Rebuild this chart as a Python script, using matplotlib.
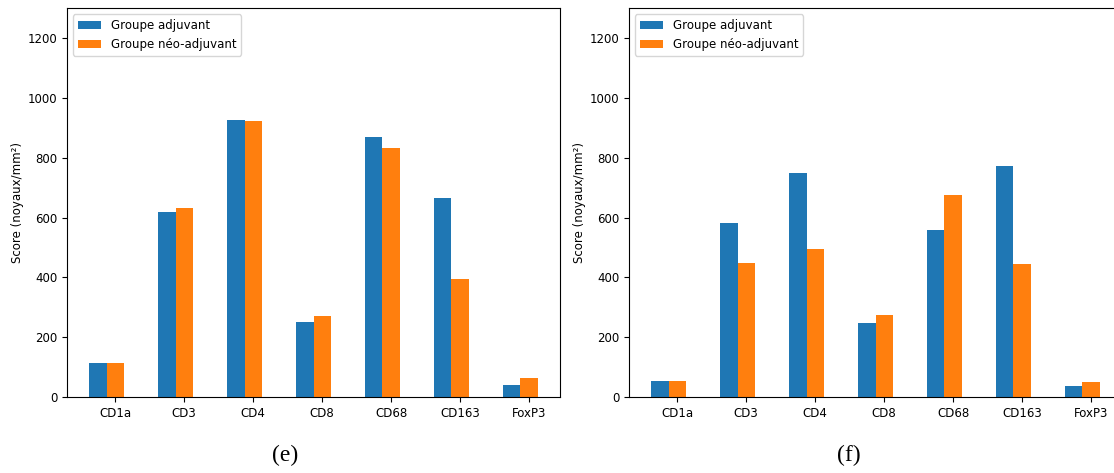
import numpy as np
import matplotlib
matplotlib.use('Agg')
import matplotlib.pyplot as plt

plt.rcParams['font.size'] = 8.5

markers = ['CD1a', 'CD3', 'CD4', 'CD8', 'CD68', 'CD163', 'FoxP3']

# panel (e)
e_adjuvant = [115, 620, 928, 252, 871, 664, 41]
e_neo_adjuvant = [115, 633, 924, 272, 834, 396, 65]

# panel (f)
f_adjuvant = [55, 583, 750, 249, 560, 774, 38]
f_neo_adjuvant = [55, 449, 496, 275, 677, 446, 51]

labels = ['Groupe adjuvant', 'Groupe néo-adjuvant']
captions = ['(e)', '(f)']

W, H = 1114, 473
fig = plt.figure(figsize=(W / 100, H / 100), dpi=100)

ax_e = fig.add_axes([67 / W, 76 / H, 493 / W, 388.7 / H])
ax_f = fig.add_axes([629 / W, 76 / H, 493 / W, 388.7 / H])

x = np.arange(len(markers))
width = 0.25

for ax, adj, neo, cap, cx in [(ax_e, e_adjuvant, e_neo_adjuvant, captions[0], 285),
                              (ax_f, f_adjuvant, f_neo_adjuvant, captions[1], 849)]:
    ax.bar(x - width, adj, width, label=labels[0], color='#1f77b4')
    ax.bar(x, neo, width, label=labels[1], color='#ff7f0e')
    ax.set_xticks(x)
    ax.set_xticklabels(markers)
    ax.set_ylim(0, 1300)
    ax.set_yticks([0, 200, 400, 600, 800, 1000, 1200])
    ax.set_ylabel('Score (noyaux/mm²)', labelpad=2.5)
    ax.legend(loc='upper left')
    fig.text(cx / W, 1 - 455 / H, cap, ha='center', va='center',
             family='Liberation Serif', fontsize=17)

plt.savefig('out.png', dpi=100)
